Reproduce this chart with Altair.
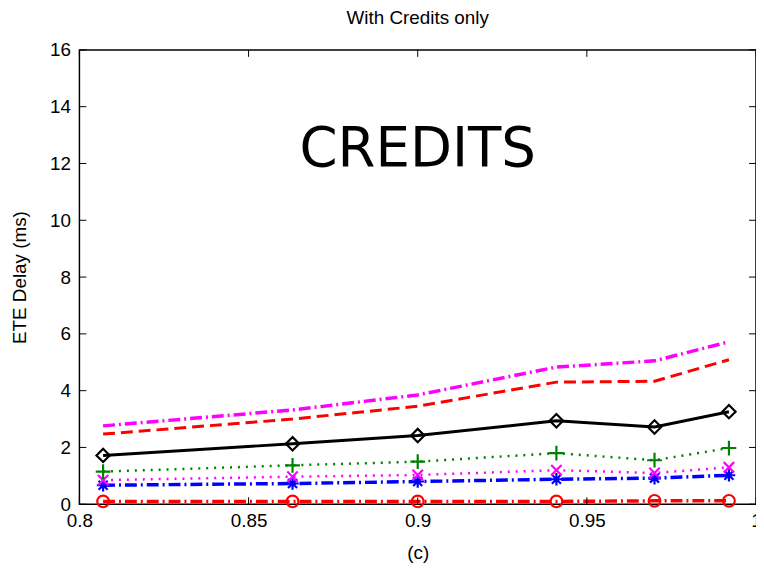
import altair as alt
import pandas as pd

# ---- data ----
x_vals = [0.807, 0.863, 0.900, 0.941, 0.970, 0.992]
magenta_dashdot = [2.76, 3.32, 3.85, 4.83, 5.05, 5.72]
red_dashed = [2.47, 3.00, 3.45, 4.30, 4.33, 5.09]
black_diamond = [1.72, 2.13, 2.42, 2.94, 2.72, 3.26]
green_plus = [1.15, 1.37, 1.50, 1.80, 1.55, 1.98]
magenta_x = [0.85, 0.97, 1.03, 1.20, 1.10, 1.30]
blue_star = [0.67, 0.73, 0.80, 0.88, 0.92, 1.02]
red_circle = [0.10, 0.10, 0.10, 0.10, 0.12, 0.12]

x_ticks = [0.8, 0.85, 0.9, 0.95, 1.0]
y_ticks = [0, 2, 4, 6, 8, 10, 12, 14, 16]

W, H = 682, 458

# styles (not data)
PLUS = "M-1,0L1,0M0,-1L0,1"
XSHAPE = "M-1,-1L1,1M-1,1L1,-1"
STAR = "M-1,0L1,0M0,-1L0,1M-0.72,-0.72L0.72,0.72M-0.72,0.72L0.72,-0.72"
series = [
    (red_circle, "#ff0000", [12, 4, 2, 4], 3.5, "circle", 140),
    (blue_star, "#0000ff", [12, 4, 2, 4], 3.5, STAR, 160),
    (magenta_x, "#ff00ff", [2, 6], 2.5, XSHAPE, 110),
    (green_plus, "#008000", [2, 6], 2.5, PLUS, 220),
    (black_diamond, "#000000", None, 3, "diamond", 180),
    (red_dashed, "#ff0000", [12, 6], 3, None, 0),
    (magenta_dashdot, "#ff00ff", [12, 4, 2, 4], 3.5, None, 0),
]

xscale = alt.Scale(domain=[0.8, 1.0], nice=False, zero=False)
yscale = alt.Scale(domain=[0, 16], nice=False)
xaxis = alt.Axis(values=x_ticks, format="~g", title="(c)", labelPadding=7,
                 titlePadding=14, labelFlush=False)
yaxis = alt.Axis(values=y_ticks, title="ETE Delay (ms)", labelPadding=9, titlePadding=20)


def X(field):
    return alt.X(field, type="quantitative", scale=xscale, axis=xaxis)


def Y(field):
    return alt.Y(field, type="quantitative", scale=yscale, axis=yaxis)


layers = []
for vals, color, dash, sw, shape, size in series:
    df = pd.DataFrame({"x": x_vals, "y": vals})
    line_kwargs = dict(color=color, strokeWidth=sw, clip=True)
    if dash:
        line_kwargs["strokeDash"] = dash
    layers.append(alt.Chart(df).mark_line(**line_kwargs).encode(x=X("x"), y=Y("y")))
    if shape:
        layers.append(
            alt.Chart(df)
            .mark_point(shape=shape, color=color, size=size, filled=False, strokeWidth=2.2, opacity=1)
            .encode(x=X("x"), y=Y("y"))
        )

# inward ticks like the original frame
xt = pd.DataFrame({"t": x_ticks})
yt = pd.DataFrame({"t": y_ticks})
layers.append(alt.Chart(xt).mark_rule(color="black").encode(x=X("t"), y=alt.value(H), y2=alt.value(H - 7)))
layers.append(alt.Chart(xt).mark_rule(color="black").encode(x=X("t"), y=alt.value(0), y2=alt.value(7)))
layers.append(alt.Chart(yt).mark_rule(color="black").encode(y=Y("t"), x=alt.value(0), x2=alt.value(7)))
layers.append(alt.Chart(yt).mark_rule(color="black").encode(y=Y("t"), x=alt.value(W), x2=alt.value(W - 7)))

label_df = pd.DataFrame({"x": [0.9], "y": [12.5], "t": ["CREDITS"]})
layers.append(
    alt.Chart(label_df)
    .mark_text(fontSize=55, font="DejaVu Sans", color="black")
    .encode(x=X("x"), y=Y("y"), text="t:N")
)

chart = (
    alt.layer(*layers)
    .properties(
        width=W,
        height=H,
        title=alt.TitleParams("With Credits only", fontSize=19, fontWeight="normal",
                              font="Liberation Sans", color="black", offset=13),
        padding={"left": 72, "top": 40, "right": 0, "bottom": 57},
        autosize="none",
        background="white",
    )
    .configure_view(stroke="black", strokeWidth=1.5)
    .configure_axis(
        grid=False,
        domain=False,
        ticks=False,
        labelFont="Liberation Sans",
        labelFontSize=19,
        labelColor="black",
        titleFont="Liberation Sans",
        titleFontSize=19,
        titleFontWeight="normal",
        titleColor="black",
    )
)

chart.save("out.html", embed_options={"renderer": "svg", "actions": False})
